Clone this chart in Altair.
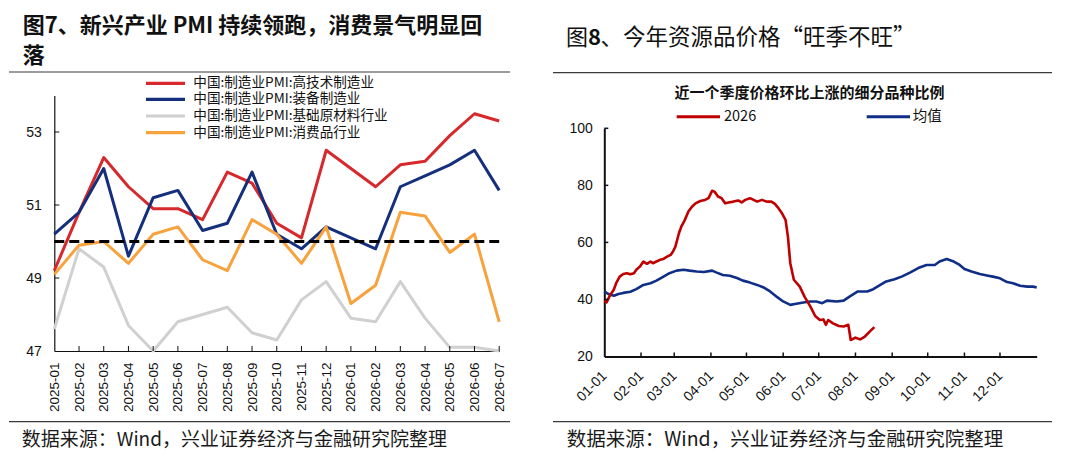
import altair as alt
import pandas as pd

CJK = "Noto Sans CJK SC"
NUM = "Liberation Sans, Arial, sans-serif"

# ---------------- left chart data (图7) ----------------
months = ["2025-01", "2025-02", "2025-03", "2025-04", "2025-05", "2025-06",
          "2025-07", "2025-08", "2025-09", "2025-10", "2025-11", "2025-12",
          "2026-01", "2026-02", "2026-03", "2026-04", "2026-05", "2026-06",
          "2026-07"]
series_names = ["中国:制造业PMI:高技术制造业", "中国:制造业PMI:装备制造业",
                "中国:制造业PMI:基础原材料行业", "中国:制造业PMI:消费品行业"]
series_colors = ["#d7282c", "#142f7c", "#d0d0d0", "#f7a23c"]
hightech = [49.2, 50.8, 52.3, 51.5, 50.9, 50.9, 50.6, 51.9, 51.6, 50.5, 50.1, 52.5,
            None, 51.5, 52.1, 52.2, 52.9, 53.5, 53.3]
equipment = [50.2, 50.8, 52.0, 49.6, 51.2, 51.4, 50.3, 50.5, 51.9, 50.2, 49.8, 50.4,
             None, 49.8, 51.5, 51.8, 52.1, 52.5, 51.4]
basic = [47.6, 49.8, 49.3, 47.7, 47.0, 47.8, 48.0, 48.2, 47.5, 47.3, 48.4, 48.9,
         47.9, 47.8, 48.9, 47.9, 47.1, 47.1, 47.0]
consumer = [49.1, 49.9, 50.0, 49.4, 50.2, 50.4, 49.5, 49.2, 50.6, 50.2, 49.4, 50.4,
            48.3, 48.8, 50.8, 50.7, 49.7, 50.2, 47.8]
threshold = 50
left_y_ticks = [47, 49, 51, 53]

# ---------------- right chart data (图8) ----------------
avg_day = [0, 3, 8, 12, 16, 22, 27, 33, 39, 44, 50, 55, 61, 67, 72, 78, 84, 91, 95,
           100, 106, 112, 117, 123, 129, 134, 140, 146, 151, 157, 162, 168, 174, 179,
           184, 188, 196, 202, 207, 214, 222, 227, 233, 238, 245, 251, 258, 265, 272,
           279, 283, 289, 295, 300, 304, 310, 317, 323, 328, 334, 340, 345, 351, 357,
           362, 365]
avg_val = [42.8, 42.0, 41.3, 41.9, 42.3, 42.7, 43.6, 45.1, 45.7, 46.6, 48.0, 49.2, 50.1,
           50.4, 50.1, 49.8, 49.6, 50.1, 49.4, 48.6, 48.3, 47.5, 46.6, 45.9, 45.1, 44.3,
           42.8, 40.8, 39.3, 38.1, 38.5, 38.9, 39.3, 39.3, 38.7, 39.6, 39.3, 39.6, 41.0,
           42.8, 42.8, 43.6, 45.1, 46.3, 47.1, 48.0, 49.4, 51.0, 52.1, 52.1, 53.3, 54.2,
           53.3, 52.1, 50.7, 49.8, 48.9, 48.4, 48.0, 47.4, 46.1, 45.7, 44.8, 44.5, 44.5,
           44.2]
cur_day = [0, 2, 5, 8, 10, 13, 16, 19, 22, 25, 27, 30, 33, 36, 39, 41, 44, 47, 50, 53,
           56, 58, 60, 63, 65, 68, 71, 74, 77, 81, 85, 88, 91, 93, 96, 99, 102, 105, 109,
           113, 116, 119, 123, 126, 129, 133, 137, 141, 144, 147, 150, 153, 155, 157,
           160, 165, 169, 174, 178, 182, 185, 187, 189, 193, 198, 202, 206, 208, 212,
           216, 220, 224, 228]
cur_val = [39.5, 39.0, 41.6, 43.4, 45.7, 48.0, 48.9, 49.2, 48.8, 49.2, 50.4, 51.5, 53.3,
           52.5, 53.3, 52.7, 53.3, 53.9, 54.2, 55.0, 55.6, 56.8, 58.5, 63.2, 65.5, 67.9,
           70.8, 72.5, 73.7, 74.5, 74.9, 75.5, 78.1, 77.8, 76.1, 75.5, 73.7, 74.0, 74.3,
           74.7, 74.0, 74.9, 75.5, 74.9, 74.3, 74.9, 74.3, 74.3, 73.5, 72.0, 70.2, 67.9,
           62.0, 52.7, 46.9, 44.5, 41.0, 37.5, 34.2, 32.8, 33.0, 31.1, 32.8, 31.6, 30.7,
           30.5, 31.1, 25.8, 26.6, 26.0, 27.0, 28.7, 30.3]
month_start_days = [0, 31, 59, 90, 120, 151, 181, 212, 243, 273, 304, 334]
month_labels = ["01-01", "02-01", "03-01", "04-01", "05-01", "06-01", "07-01",
                "08-01", "09-01", "10-01", "11-01", "12-01"]
right_y_ticks = [20, 40, 60, 80, 100]
right_names = ["2026", "均值"]
right_colors = ["#c00000", "#0f2f86"]

# ---------------- layout (view pixels) ----------------
W, H = 1064, 444
L_X0, L_X1 = 46.3, 491.2
L_Y0, L_Y1 = 343.0, 87.5
R_X0, R_X1 = 596.3, 1028.7
R_Y0, R_Y1 = 348.5, 120.3


def text_mark(txt, x, y, size, weight="normal", font=CJK, align="left", color="#111111"):
    return alt.Chart(pd.DataFrame({"t": [txt]})).mark_text(
        align=align, baseline="middle", fontSize=size, fontWeight=weight,
        font=font, color=color
    ).encode(x=alt.value(x), y=alt.value(y), text="t:N")


def hrule(x1, x2, y, width=1.2, color="#3a3a3a", dash=None):
    kw = dict(color=color, strokeWidth=width)
    if dash:
        kw["strokeDash"] = dash
    return alt.Chart(pd.DataFrame({"a": [0]})).mark_rule(**kw).encode(
        x=alt.value(x1), x2=alt.value(x2), y=alt.value(y))


# ---------------- left chart ----------------
lx = alt.X("month:O",
           scale=alt.Scale(type="point", domain=months, range=[L_X0, L_X1], padding=0),
           axis=alt.Axis(orient="bottom", offset=L_Y0 - H, title=None, ticks=False,
                         labelAngle=270, labelAlign="right", labelBaseline="middle",
                         labelPadding=11, labelFontSize=13.5, labelFont=NUM,
                         labelColor="#111111", labelOverlap=False, domainColor="#111111",
                         domainWidth=1.2, grid=False))
ly = alt.Y("value:Q",
           scale=alt.Scale(domain=[47, 54], range=[L_Y0, L_Y1], nice=False, zero=False),
           axis=alt.Axis(orient="left", offset=-L_X0, title=None, ticks=False,
                         values=left_y_ticks, labelPadding=13, labelFontSize=14,
                         labelFont=NUM, labelColor="#111111", labelFlush=False,
                         domainColor="#111111", domainWidth=1.2, grid=False))

left_layers = []
for name, color, vals in zip(series_names, series_colors,
                             [hightech, equipment, basic, consumer]):
    df = pd.DataFrame({"month": months, "value": vals, "series": name}).dropna()
    left_layers.append(
        alt.Chart(df).mark_line(color=color, strokeWidth=3, strokeJoin="round")
        .encode(x=lx, y=ly))

thr_df = pd.DataFrame({"month": [months[0]], "month_end": [months[-1]], "value": [threshold]})
left_layers.append(
    alt.Chart(thr_df).mark_rule(color="black", strokeWidth=3, strokeDash=[10, 5])
    .encode(x=lx, x2=alt.X2("month_end"), y=ly))

xt_df = pd.DataFrame({"month": months[1:], "value": [47] * (len(months) - 1)})
left_layers.append(
    alt.Chart(xt_df).mark_rule(color="#111111", strokeWidth=1)
    .encode(x=lx, y=alt.value(L_Y0 - 5), y2=alt.value(L_Y0)))
yt_df = pd.DataFrame({"month": [months[0]] * 3, "value": left_y_ticks[1:]})
left_layers.append(
    alt.Chart(yt_df).mark_rule(color="#111111", strokeWidth=1)
    .encode(y=ly, x=alt.value(L_X0), x2=alt.value(L_X0 + 5)))

left_chart = alt.layer(*left_layers)

# ---------------- right chart ----------------
label_expr = "[" + ",".join("'%s'" % s for s in month_labels) + "][indexof([" + \
    ",".join(str(d) for d in month_start_days) + "], datum.value)]"
rx = alt.X("day:Q",
           scale=alt.Scale(domain=[0, 365], range=[R_X0, R_X1], nice=False, zero=False),
           axis=alt.Axis(orient="bottom", offset=R_Y0 - H, title=None, ticks=False,
                         values=month_start_days, labelExpr=label_expr,
                         labelAngle=315, labelAlign="right", labelBaseline="middle",
                         labelPadding=17, labelFontSize=14, labelFont=NUM,
                         labelColor="#111111", labelOverlap=False, labelFlush=False,
                         labelBound=False, domainColor="#111111", domainWidth=2,
                         grid=False))
ry = alt.Y("value:Q",
           scale=alt.Scale(domain=[20, 100], range=[R_Y0, R_Y1], nice=False, zero=False),
           axis=alt.Axis(orient="left", offset=-R_X0, title=None, ticks=False,
                         values=right_y_ticks, labelPadding=12, labelFontSize=14,
                         labelFont=NUM, labelColor="#111111", labelFlush=False,
                         domainColor="#111111", domainWidth=2, grid=False))

avg_df = pd.DataFrame({"day": avg_day, "value": avg_val})
cur_df = pd.DataFrame({"day": cur_day, "value": cur_val})
rxt_df = pd.DataFrame({"day": month_start_days[1:], "value": [20] * 11})
ryt_df = pd.DataFrame({"day": [0] * 4, "value": right_y_ticks[1:]})

right_chart = alt.layer(
    alt.Chart(avg_df).mark_line(color=right_colors[1], strokeWidth=2.6, strokeJoin="round")
    .encode(x=rx, y=ry),
    alt.Chart(cur_df).mark_line(color=right_colors[0], strokeWidth=2.6, strokeJoin="round")
    .encode(x=rx, y=ry),
    alt.Chart(rxt_df).mark_rule(color="#111111", strokeWidth=1.5)
    .encode(x=rx, y=alt.value(R_Y0 - 4), y2=alt.value(R_Y0)),
    alt.Chart(ryt_df).mark_rule(color="#111111", strokeWidth=1.5)
    .encode(y=ry, x=alt.value(R_X0), x2=alt.value(R_X0 + 4)),
)

# ---------------- decorations ----------------
deco = []
# left panel
deco.append(text_mark("图7、新兴产业 PMI 持续领跑，消费景气明显回", 14.7, 17.5, 22, "bold"))
deco.append(text_mark("落", 14.7, 48, 22, "bold"))
deco.append(hrule(1, 502, 64))
leg_y = [75.3, 91.3, 108.0, 124.7]
for name, color, yy in zip(series_names, series_colors, leg_y):
    deco.append(hrule(138, 177, yy, width=3.2, color=color))
    deco.append(text_mark(name, 185.3, yy, 13.6))
deco.append(hrule(1, 502, 413.7))
deco.append(text_mark("数据来源：Wind，兴业证券经济与金融研究院整理", 13.7, 432, 19,
                      color="#1a1a1a"))
# right panel
deco.append(text_mark("图", 558, 30.3, 22))
deco.append(text_mark("8", 580, 30.3, 22, "bold"))
deco.append(text_mark("、今年资源品价格“旺季不旺”", 592.5, 30.3, 22.5))
deco.append(hrule(545, 1044, 64.7))
deco.append(text_mark("近一个季度价格环比上涨的细分品种比例", 801.5, 85.3, 15, "bold",
                      align="center"))
deco.append(hrule(668.7, 712, 108.7, width=3, color=right_colors[0]))
deco.append(text_mark(right_names[0], 716, 108.7, 14.5))
deco.append(hrule(858.7, 902, 108.7, width=3, color=right_colors[1]))
deco.append(text_mark(right_names[1], 904.7, 108.7, 14.5))
deco.append(hrule(545, 1044, 413.7))
deco.append(text_mark("数据来源：Wind，兴业证券经济与金融研究院整理", 558.7, 432, 19.5,
                      color="#1a1a1a"))

chart = alt.layer(left_chart, right_chart, *deco).resolve_scale(
    x="independent", y="independent"
).properties(
    width=W, height=H, padding=0,
    autosize=alt.AutoSizeParams(type="none"),
    background="white",
).configure_view(stroke=None)

chart.save("out.html", embed_options={"renderer": "svg", "actions": False})
